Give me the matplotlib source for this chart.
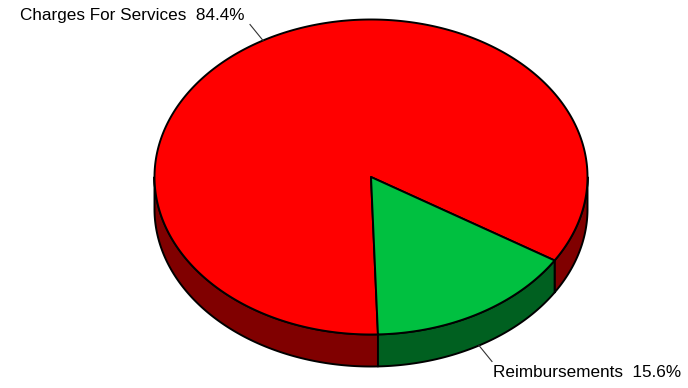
import numpy as np
import matplotlib
matplotlib.use("Agg")
import matplotlib.pyplot as plt
from matplotlib.patches import Polygon

labels = ["Charges For Services", "Reimbursements"]
values = [84.4, 15.6]
top_colors = ["#FF0000", "#00C040"]
side_colors = ["#800000", "#006020"]

W, H = 688, 388
cx, cy = 371.0, 177.0      # centre of the top ellipse (pixels)
rx, ry = 216.5, 157.5      # ellipse radii
depth = 32.0               # thickness of the pie
start = -32.0              # angle where the first slice begins (deg, ccw)

fig = plt.figure(figsize=(W / 100, H / 100), dpi=100)
ax = fig.add_axes([0, 0, 1, 1])
ax.set_xlim(0, W)
ax.set_ylim(H, 0)
ax.axis("off")


def pt(t_deg, dz=0.0):
    t = np.radians(t_deg)
    return cx + rx * np.cos(t), cy - ry * np.sin(t) + dz


total = sum(values)
spans = [v / total * 360.0 for v in values]
bounds = []
a = start
for s in spans:
    bounds.append((a, a + s))
    a += s

lw = 1.4

# side walls (only the front half, 180..360 deg, is visible)
for (a0, a1), col in zip(bounds, side_colors):
    for k in range(-1, 2):
        lo = max(a0, 180 + 360 * k)
        hi = min(a1, 360 + 360 * k)
        if hi <= lo:
            continue
        ts = np.linspace(lo, hi, 200)
        top = [pt(t) for t in ts]
        bot = [pt(t, depth) for t in ts[::-1]]
        ax.add_patch(Polygon(top + bot, closed=True, facecolor=col,
                             edgecolor="black", linewidth=lw,
                             joinstyle="round", zorder=2))

# top faces
for (a0, a1), col in zip(bounds, top_colors):
    ts = np.linspace(a0, a1, 400)
    verts = [(cx, cy)] + [pt(t) for t in ts]
    ax.add_patch(Polygon(verts, closed=True, facecolor=col,
                         edgecolor="black", linewidth=lw,
                         joinstyle="round", zorder=3))

# labels with leader lines
font = dict(family=["Liberation Sans", "DejaVu Sans"], fontsize=12.3,
            color="black")
for (a0, a1), lab, v in zip(bounds, labels, values):
    mid = (a0 + a1) / 2.0
    m = mid % 360
    dz = depth if 180 < m < 360 else 0.0
    x0, y0 = pt(mid, dz)
    ux, uy = np.cos(np.radians(mid)), -np.sin(np.radians(mid))
    x1, y1 = x0 + 13 * np.sign(ux), y0 + 16 * np.sign(uy)
    ax.plot([x0, x1], [y0, y1], color="#333333", linewidth=0.8, zorder=4)
    text = f"{lab}  {v:.1f}%"
    if ux < 0:
        ax.text(x1 - 6, y1 - 9, text, ha="right", va="center", **font)
    else:
        ax.text(x1 + 1, y1 + 11, text, ha="left", va="center", **font)

fig.savefig("out.png", dpi=100, facecolor="white")
